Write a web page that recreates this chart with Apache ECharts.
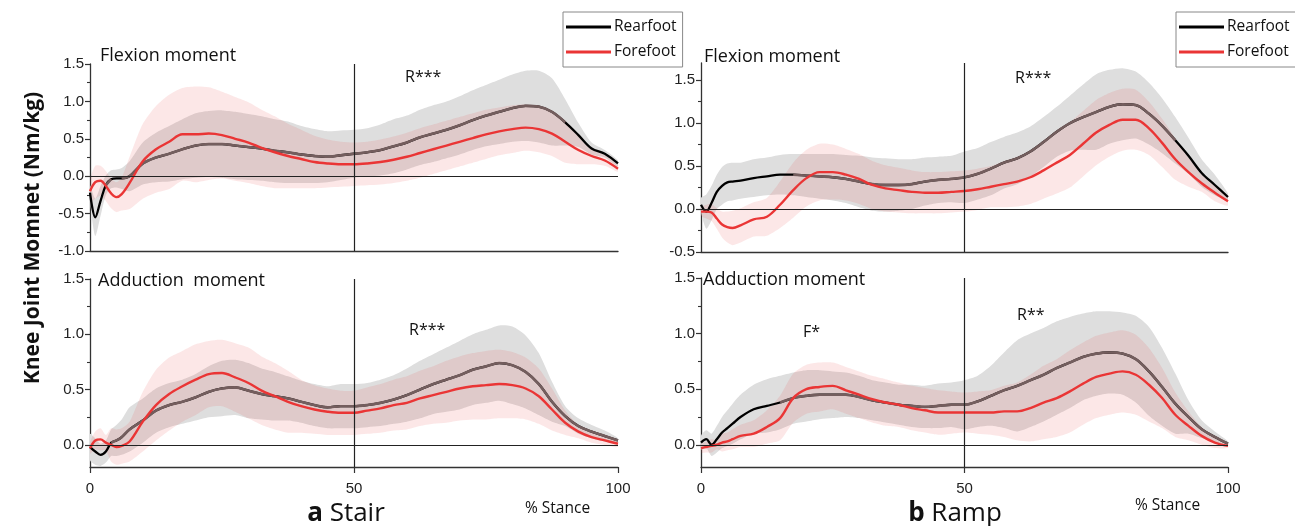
<!DOCTYPE html>
<html>
<head>
<meta charset="utf-8">
<script src="https://cdn.jsdelivr.net/npm/echarts@6/dist/echarts.min.js"></script>
<style>
  body { margin: 0; background: #fff; }
  #chart { width: 1295px; height: 526px; }
</style>
</head>
<body>
<div id="chart"></div>
<script>
// % stance sample points shared by every curve
var pct = [0,1,2,3,4,5,6,7.5,10,12.5,15,17.5,20,22.5,25,27.5,30,32.5,35,37.5,40,42.5,45,47.5,50,52.5,55,57.5,60,62.5,65,67.5,70,72.5,75,77.5,80,82.5,85,87.5,90,92.5,95,97.5,100];

// a Stair - flexion moment
var stairFlexRear   = [-0.22,-0.55,-0.33,-0.12,-0.04,-0.03,-0.03,0.00,0.17,0.25,0.30,0.36,0.41,0.43,0.43,0.41,0.39,0.37,0.34,0.32,0.29,0.27,0.26,0.28,0.30,0.32,0.35,0.40,0.45,0.52,0.57,0.62,0.68,0.75,0.81,0.86,0.91,0.94,0.93,0.86,0.72,0.55,0.37,0.30,0.17];
var stairFlexRearSD = [0.10,0.25,0.20,0.13,0.12,0.12,0.14,0.20,0.28,0.33,0.37,0.40,0.43,0.44,0.45,0.45,0.44,0.43,0.42,0.41,0.38,0.36,0.34,0.33,0.32,0.32,0.34,0.36,0.36,0.37,0.38,0.38,0.39,0.40,0.41,0.43,0.45,0.47,0.48,0.45,0.31,0.16,0.08,0.05,0.04];
var stairFlexFore   = [-0.20,-0.08,-0.06,-0.13,-0.23,-0.28,-0.24,-0.09,0.20,0.36,0.46,0.56,0.56,0.57,0.55,0.50,0.45,0.38,0.32,0.27,0.23,0.19,0.17,0.16,0.16,0.17,0.19,0.22,0.26,0.31,0.36,0.41,0.46,0.51,0.56,0.60,0.63,0.65,0.63,0.57,0.46,0.35,0.27,0.21,0.10];
var stairFlexForeSD = [0.15,0.22,0.20,0.20,0.20,0.20,0.22,0.35,0.50,0.58,0.63,0.62,0.64,0.62,0.58,0.56,0.54,0.51,0.48,0.43,0.39,0.35,0.32,0.30,0.29,0.29,0.30,0.31,0.32,0.33,0.33,0.33,0.33,0.33,0.33,0.32,0.32,0.31,0.31,0.30,0.28,0.19,0.11,0.07,0.04];

// a Stair - adduction moment
var stairAddRear   = [-0.02,-0.06,-0.09,-0.06,0.02,0.04,0.07,0.14,0.22,0.31,0.36,0.39,0.43,0.48,0.51,0.52,0.49,0.46,0.44,0.42,0.39,0.36,0.34,0.35,0.35,0.36,0.38,0.41,0.45,0.50,0.55,0.59,0.63,0.68,0.71,0.74,0.72,0.66,0.55,0.39,0.26,0.17,0.12,0.08,0.04];
var stairAddRearSD = [0.12,0.12,0.10,0.10,0.12,0.14,0.16,0.20,0.20,0.20,0.20,0.20,0.21,0.23,0.25,0.25,0.25,0.23,0.22,0.20,0.19,0.19,0.19,0.20,0.20,0.20,0.21,0.22,0.24,0.26,0.27,0.29,0.31,0.32,0.33,0.34,0.35,0.33,0.28,0.18,0.09,0.07,0.06,0.05,0.02];
var stairAddFore   = [-0.03,0.04,0.05,0.02,0.00,-0.02,-0.01,0.03,0.21,0.36,0.46,0.53,0.59,0.64,0.65,0.61,0.56,0.49,0.44,0.39,0.35,0.32,0.30,0.29,0.29,0.31,0.33,0.36,0.38,0.42,0.45,0.48,0.51,0.53,0.54,0.55,0.54,0.51,0.44,0.32,0.20,0.12,0.07,0.04,0.01];
var stairAddForeSD = [0.05,0.08,0.10,0.07,0.15,0.16,0.16,0.18,0.27,0.32,0.33,0.32,0.32,0.30,0.30,0.31,0.32,0.31,0.30,0.28,0.24,0.22,0.21,0.20,0.20,0.21,0.22,0.23,0.24,0.25,0.26,0.28,0.29,0.30,0.31,0.31,0.30,0.28,0.25,0.19,0.11,0.06,0.05,0.04,0.03];

// b Ramp - flexion moment
var rampFlexRear   = [0.05,-0.03,0.07,0.20,0.27,0.31,0.32,0.33,0.36,0.38,0.40,0.40,0.39,0.38,0.37,0.35,0.32,0.29,0.28,0.28,0.29,0.32,0.34,0.35,0.37,0.41,0.47,0.54,0.59,0.67,0.78,0.90,1.00,1.07,1.13,1.19,1.22,1.21,1.11,0.97,0.80,0.62,0.42,0.28,0.14];
var rampFlexRearSD = [0.08,0.20,0.20,0.20,0.22,0.22,0.22,0.21,0.22,0.22,0.23,0.24,0.25,0.26,0.27,0.28,0.30,0.31,0.31,0.30,0.29,0.28,0.27,0.27,0.30,0.30,0.31,0.30,0.30,0.29,0.29,0.29,0.32,0.38,0.44,0.43,0.42,0.39,0.36,0.32,0.27,0.21,0.16,0.12,0.04];
var rampFlexFore   = [-0.03,-0.03,-0.04,-0.11,-0.18,-0.21,-0.22,-0.19,-0.12,-0.09,0.05,0.22,0.36,0.43,0.43,0.40,0.35,0.28,0.24,0.22,0.20,0.19,0.19,0.20,0.21,0.23,0.26,0.29,0.32,0.37,0.45,0.54,0.63,0.76,0.89,0.98,1.04,1.04,0.94,0.77,0.58,0.43,0.30,0.19,0.09];
var rampFlexForeSD = [0.05,0.08,0.10,0.12,0.15,0.18,0.20,0.20,0.20,0.22,0.27,0.32,0.33,0.33,0.32,0.30,0.29,0.28,0.27,0.26,0.25,0.24,0.24,0.24,0.24,0.24,0.24,0.27,0.29,0.31,0.33,0.36,0.38,0.38,0.38,0.37,0.36,0.35,0.31,0.28,0.24,0.17,0.10,0.10,0.05];

// b Ramp - adduction moment
var rampAddRear   = [0.02,0.05,0.00,0.05,0.11,0.15,0.19,0.25,0.32,0.35,0.38,0.42,0.44,0.45,0.45,0.45,0.43,0.40,0.38,0.36,0.35,0.34,0.35,0.36,0.36,0.39,0.44,0.49,0.53,0.58,0.63,0.69,0.74,0.79,0.82,0.83,0.82,0.77,0.66,0.52,0.37,0.25,0.14,0.07,0.01];
var rampAddRearSD = [0.06,0.08,0.10,0.12,0.14,0.16,0.18,0.20,0.22,0.24,0.24,0.23,0.23,0.22,0.21,0.20,0.19,0.18,0.18,0.18,0.19,0.19,0.20,0.20,0.22,0.23,0.27,0.34,0.41,0.42,0.42,0.42,0.41,0.39,0.38,0.37,0.37,0.39,0.40,0.35,0.27,0.15,0.08,0.05,0.02];
var rampAddFore   = [-0.03,-0.02,-0.01,0.00,0.02,0.03,0.05,0.08,0.10,0.16,0.24,0.42,0.50,0.52,0.53,0.49,0.45,0.41,0.38,0.36,0.33,0.31,0.29,0.29,0.29,0.29,0.29,0.30,0.30,0.33,0.38,0.42,0.48,0.55,0.61,0.64,0.66,0.63,0.54,0.42,0.27,0.17,0.08,0.02,-0.01];
var rampAddForeSD = [0.04,0.05,0.06,0.04,0.08,0.08,0.09,0.10,0.12,0.15,0.20,0.22,0.22,0.22,0.21,0.21,0.21,0.21,0.21,0.20,0.20,0.20,0.20,0.19,0.18,0.19,0.20,0.23,0.26,0.30,0.33,0.35,0.37,0.37,0.37,0.37,0.37,0.36,0.33,0.27,0.20,0.13,0.08,0.05,0.02];

// y tick values per panel
var ticksFlexStair = [-1, -0.5, 0, 0.5, 1, 1.5];
var minorFlexStair = [-0.75, -0.25, 0.25, 0.75, 1.25];
var ticksFlexRamp = [-0.5, 0, 0.5, 1, 1.5];
var minorFlexRamp = [-0.25, 0.25, 0.75, 1.25];
var ticksAdd = [0, 0.5, 1, 1.5];
var minorAdd = [0.25, 0.75, 1.25];

var panels = [
  {rear: stairFlexRear, rearSd: stairFlexRearSD, fore: stairFlexFore, foreSd: stairFlexForeSD, min: -1, max: 1.5, ticks: ticksFlexStair, minor: minorFlexStair},
  {rear: stairAddRear, rearSd: stairAddRearSD, fore: stairAddFore, foreSd: stairAddForeSD, min: -0.2, max: 1.5, ticks: ticksAdd, minor: minorAdd},
  {rear: rampFlexRear, rearSd: rampFlexRearSD, fore: rampFlexFore, foreSd: rampFlexForeSD, min: -0.5, max: 1.7, ticks: ticksFlexRamp, minor: minorFlexRamp},
  {rear: rampAddRear, rearSd: rampAddRearSD, fore: rampAddFore, foreSd: rampAddForeSD, min: -0.2, max: 1.5, ticks: ticksAdd, minor: minorAdd}
];
var grids = [
  {left: 90, top: 64, width: 528, height: 187},
  {left: 90, top: 279, width: 528, height: 188},
  {left: 701, top: 63, width: 527, height: 189},
  {left: 701, top: 278, width: 527, height: 189}
];

var SMOOTH = 0.35;
var axisColor = '#333';
var tickFont = 'Liberation Sans';
var textFont = '"Open Sans"';

function pts(arr) { return arr.map(function (v, i) { return [pct[i], v]; }); }

// mean +/- SD band drawn as one polygon through the axis scales
function band(k, mean, sd, color) {
  var rows = mean.map(function (m, i) { return [pct[i], +(m - sd[i]).toFixed(3), +(m + sd[i]).toFixed(3)]; });
  return {
    type: 'custom', xAxisIndex: k, yAxisIndex: k, silent: true, clip: true,
    data: rows, encode: {x: 0, y: [1, 2]},
    renderItem: function (params, api) {
      if (params.dataIndex !== 0) return null;
      var up = [], dn = [];
      rows.forEach(function (r) {
        up.push(api.coord([r[0], r[2]]));
        dn.push(api.coord([r[0], r[1]]));
      });
      return {
        type: 'polygon',
        shape: {points: up.concat(dn.reverse()), smooth: 0.25},
        style: {fill: color, stroke: null}
      };
    }
  };
}

var series = [];
var xAxes = [];
var yAxes = [];
var minorAxes = [];

panels.forEach(function (p, k) {
  var bottomRow = (k === 1 || k === 3);
  xAxes.push({
    type: 'value', gridIndex: k, min: 0, max: 100, interval: 50,
    axisLine: {show: true, onZero: false, lineStyle: {color: axisColor, width: 1.3}},
    axisTick: {show: bottomRow, length: 6, lineStyle: {color: axisColor, width: 1.2}},
    axisLabel: {show: bottomRow, margin: 14, color: '#222', fontSize: 15, fontFamily: tickFont},
    splitLine: {show: false}
  });
  yAxes.push({
    type: 'value', gridIndex: k, min: p.min, max: p.max, position: 'left',
    axisLine: {show: true, onZero: false, lineStyle: {color: axisColor, width: 1.3}},
    axisTick: {show: true, length: 5, customValues: p.ticks, lineStyle: {color: axisColor, width: 1.2}},
    axisLabel: {show: true, customValues: p.ticks, margin: 6, color: '#222', fontSize: 15, fontFamily: tickFont,
      formatter: function (v) { return (+v).toFixed(1); }},
    splitLine: {show: false}
  });
  minorAxes.push({
    type: 'value', gridIndex: k, min: p.min, max: p.max, position: 'left',
    axisLine: {show: false},
    axisTick: {show: true, length: 3, customValues: p.minor, lineStyle: {color: axisColor, width: 1.1}},
    axisLabel: {show: false},
    splitLine: {show: false}
  });

  // rearfoot: grey band, black mean
  series.push(band(k, p.rear, p.rearSd, '#dedede'));
  series.push({
    name: 'Rearfoot', type: 'line', xAxisIndex: k, yAxisIndex: k, data: pts(p.rear),
    symbol: 'none', smooth: SMOOTH, silent: true, color: '#000', lineStyle: {color: '#000', width: 2.3}
  });
  // part of the rearfoot mean that lies inside the forefoot band looks brown
  series.push({
    name: 'rfShade' + k, type: 'line', xAxisIndex: k, yAxisIndex: k, connectNulls: false,
    data: p.rear.map(function (v, i) {
      return [pct[i], Math.abs(v - p.fore[i]) <= p.foreSd[i] ? v : null];
    }),
    symbol: 'none', smooth: SMOOTH, silent: true, lineStyle: {color: '#745e5e', width: 2.6}
  });
  // forefoot: pink band, red mean
  series.push(band(k, p.fore, p.foreSd, 'rgba(230,60,60,0.12)'));
  series.push({
    name: 'Forefoot', type: 'line', xAxisIndex: k, yAxisIndex: k, data: pts(p.fore),
    symbol: 'none', smooth: SMOOTH, silent: true, color: '#ea3535', lineStyle: {color: '#ea3535', width: 2.4},
    markLine: {
      symbol: 'none', silent: true, label: {show: false},
      lineStyle: {color: '#222', width: 1.2, type: 'solid'},
      data: [{yAxis: 0}, {xAxis: 50}]
    }
  });
});

function txt(text, x, y, size, extra) {
  var el = {type: 'text', x: x, y: y, silent: true,
    style: {text: text, fill: '#111', font: size + 'px ' + textFont,
      textAlign: 'left', align: 'left', textVerticalAlign: 'middle', verticalAlign: 'middle'}};
  if (extra) Object.assign(el.style, extra);
  return el;
}

var legendBase = {
  orient: 'vertical', top: 12, itemWidth: 45, itemHeight: 3, itemGap: 9, icon: 'rect',
  padding: [7, 6, 7, 3], borderColor: '#888', borderWidth: 1,
  selectedMode: false, data: ['Rearfoot', 'Forefoot'],
  textStyle: {fontSize: 15.5, fontFamily: 'Open Sans', color: '#111', padding: [0, 0, 0, -2]}
};

var chart = echarts.init(document.getElementById('chart'));
chart.setOption({
  animation: false,
  backgroundColor: '#fff',
  grid: grids,
  xAxis: xAxes,
  yAxis: yAxes.concat(minorAxes),
  legend: [
    Object.assign({left: 563}, legendBase),
    Object.assign({left: 1176}, legendBase)
  ],
  series: series,
  graphic: [
    {type: 'text', x: 33, y: 238, rotation: Math.PI / 2, silent: true,
      style: {text: 'Knee Joint Momnet (Nm/kg)', fill: '#111', font: 'bold 21px ' + textFont,
        textAlign: 'center', align: 'center', textVerticalAlign: 'middle', verticalAlign: 'middle'}},
    txt('Flexion moment', 100, 56, 18),
    txt('Flexion moment', 704, 57, 18),
    txt('Adduction  moment', 98, 281, 18),
    txt('Adduction moment', 703, 280, 18),
    txt('R***', 405, 77, 16),
    txt('R***', 409, 330, 16),
    txt('R***', 1015, 78, 16),
    txt('F*', 803, 332, 16),
    txt('R**', 1017, 315, 16),
    txt('% Stance', 525, 509, 15.5),
    txt('% Stance', 1135, 506, 15.5),
    txt('{b|a} Stair', 346, 514, 26, {textAlign: 'center', align: 'center',
      rich: {b: {fontWeight: 'bold', fontSize: 26, fontFamily: 'Open Sans'}}}),
    txt('{b|b} Ramp', 955, 514, 26, {textAlign: 'center', align: 'center',
      rich: {b: {fontWeight: 'bold', fontSize: 26, fontFamily: 'Open Sans'}}})
  ]
});
</script>
</body>
</html>
